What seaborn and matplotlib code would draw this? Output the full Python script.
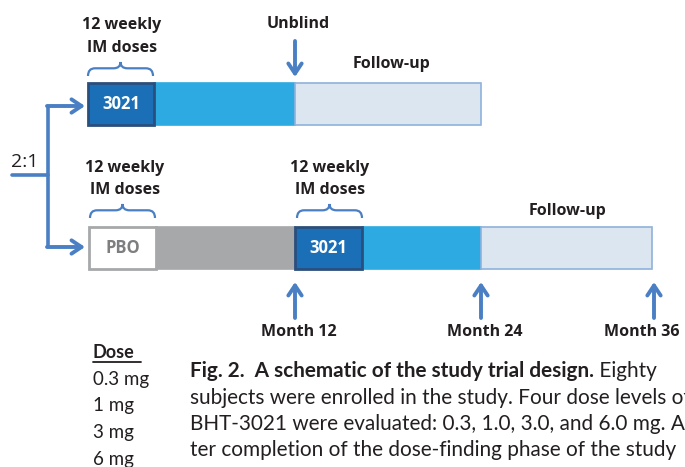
import numpy as np
import seaborn as sns
import matplotlib.pyplot as plt
from matplotlib.path import Path
from matplotlib.patches import PathPatch

# schematic data (horizontal positions along the timeline, in drawing units)
top_edges = [88, 154, 295, 481]
top_labels = ["3021", "", ""]
top_kinds = ["dose", "active", "follow"]

bot_edges = [89, 156, 295, 362, 481, 652]
bot_labels = ["PBO", "", "3021", "", ""]
bot_kinds = ["pbo", "placebo", "dose", "active", "follow"]

month_pos = [295, 481, 654]
month_labels = ["Month 12", "Month 24", "Month 36"]
month_label_x = [299, 485, 642]

dose_levels = ["0.3 mg", "1 mg", "3 mg", "6 mg"]

caption_bold = "Fig. 2.  A schematic of the study trial design."
caption_lines = [" Eighty", "subjects were enrolled in the study. Four dose levels of",
                 "BHT-3021 were evaluated: 0.3, 1.0, 3.0, and 6.0 mg. Af-",
                 "ter completion of the dose-finding phase of the study"]

styles = {
    "dose": dict(color="#1b6fb6", edgecolor="#2b4f7c"),
    "active": dict(color="#2eaae2", edgecolor="#2eaae2"),
    "follow": dict(color="#dce6f1", edgecolor="#8fb2dc"),
    "pbo": dict(color="white", edgecolor="#a7a8aa"),
    "placebo": dict(color="#a7a8aa", edgecolor="#a7a8aa"),
}
arrow_c = "#4a80c3"
txt_c = "#231f20"

sns.set_theme(style="white")
plt.rcParams["font.family"] = ["Open Sans", "DejaVu Sans"]
cap_font = ["Lato", "DejaVu Sans"]

fig = plt.figure(figsize=(6.85, 4.67), dpi=100)
ax = fig.add_axes([0, 0, 1, 1])
ax.set_xlim(0, 685)
ax.set_ylim(467, 0)
ax.axis("off")


def draw_row(edges, labels, kinds, yc, h=42):
    for i, (lab, kind) in enumerate(zip(labels, kinds)):
        st = styles[kind]
        lw = 2 if kind in ("dose", "pbo") else 1.2
        z = 3 if kind in ("dose", "pbo") else 2
        ax.barh(yc, edges[i + 1] - edges[i], left=edges[i], height=h,
                color=st["color"], edgecolor=st["edgecolor"], linewidth=lw, zorder=z)
        if lab:
            c = "white" if kind == "dose" else "#7d7e80"
            ax.text((edges[i] + edges[i + 1]) / 2, yc, lab, ha="center", va="center",
                    fontsize=12, fontweight="bold", color=c, zorder=4)


def brace(x0, x1, ybot, h=14):
    ym = ybot - h * 0.55
    yt = ybot - h
    xc = (x0 + x1) / 2
    r = 7
    verts = [(x0, ybot), (x0, ym), (x0 + r, ym), (xc - r, ym), (xc, ym), (xc, yt),
             (xc, ym), (xc + r, ym), (x1 - r, ym), (x1, ym), (x1, ybot)]
    codes = [Path.MOVETO, Path.CURVE3, Path.CURVE3, Path.LINETO, Path.CURVE3, Path.CURVE3,
             Path.CURVE3, Path.CURVE3, Path.LINETO, Path.CURVE3, Path.CURVE3]
    ax.add_patch(PathPatch(Path(verts, codes), fill=False, edgecolor=arrow_c, lw=1.6))


def arrow(x0, y0, x1, y1):
    ax.annotate("", xy=(x1, y1), xytext=(x0, y0),
                arrowprops=dict(arrowstyle="->,head_length=0.6,head_width=0.4",
                                color=arrow_c, lw=2.8, shrinkA=0, shrinkB=0))


draw_row(top_edges, top_labels, top_kinds, 104)
draw_row(bot_edges, bot_labels, bot_kinds, 248)

# randomisation bracket
ax.plot([48, 48], [106, 247], color=arrow_c, lw=2.6, solid_capstyle="butt")
arrow(47, 106, 85, 106)
arrow(47, 247, 85, 247)
ax.plot([12, 48], [175, 175], color=arrow_c, lw=2.6)
ax.text(25, 167, "2:1", ha="center", va="baseline", fontsize=14, color=txt_c)

# dosing braces and labels
bold = dict(ha="center", fontweight="bold", fontsize=11.5, color=txt_c)
brace(88, 153, 76)
ax.text(122, 29, "12 weekly", va="baseline", **bold)
ax.text(122, 52, "IM doses", va="baseline", **bold)
brace(90, 155, 218)
ax.text(125, 172, "12 weekly", va="baseline", **bold)
ax.text(125, 194, "IM doses", va="baseline", **bold)
brace(297, 362, 218)
ax.text(330, 172, "12 weekly", va="baseline", **bold)
ax.text(330, 194, "IM doses", va="baseline", **bold)

ax.text(298, 28, "Unblind", va="baseline", **bold)
arrow(295, 41, 295, 77)
ax.text(392, 68, "Follow-up", va="baseline", **bold)
ax.text(568, 215, "Follow-up", va="baseline", **bold)

for x, lx, lab in zip(month_pos, month_label_x, month_labels):
    arrow(x, 318, x, 282)
    ax.text(lx, 336, lab, va="baseline", **bold)

# dose list
ax.text(93, 358, "Dose", ha="left", va="baseline", fontsize=13, fontweight="bold",
        color=txt_c, family=cap_font)
ax.plot([93, 141], [362, 362], color=txt_c, lw=1.3)
for i, d in enumerate(dose_levels):
    ax.text(93, 385 + i * 26.5, d, ha="left", va="baseline", fontsize=13.5, color=txt_c,
            family=cap_font)

# caption, sized so that the second line runs to the right edge like the scan
fig.canvas.draw()
r = fig.canvas.get_renderer()
probe = ax.text(190, 0, caption_lines[1][:-1], fontsize=10, family=cap_font)
w = probe.get_window_extent(r).width
probe.remove()
fs = 10 * 495 / w

t = ax.text(190, 377, caption_bold, ha="left", va="baseline", fontsize=fs,
            fontweight="bold", color=txt_c, family=cap_font)
bb = t.get_window_extent(r)
x_end = ax.transData.inverted().transform((bb.x1, bb.y0))[0]
ax.text(x_end, 377, caption_lines[0], ha="left", va="baseline", fontsize=fs, color=txt_c,
        family=cap_font)
for i, line in enumerate(caption_lines[1:]):
    ax.text(190, 377 + (i + 1) * 26.5, line, ha="left", va="baseline", fontsize=fs,
            color=txt_c, family=cap_font)

fig.savefig("out.png", dpi=100)
